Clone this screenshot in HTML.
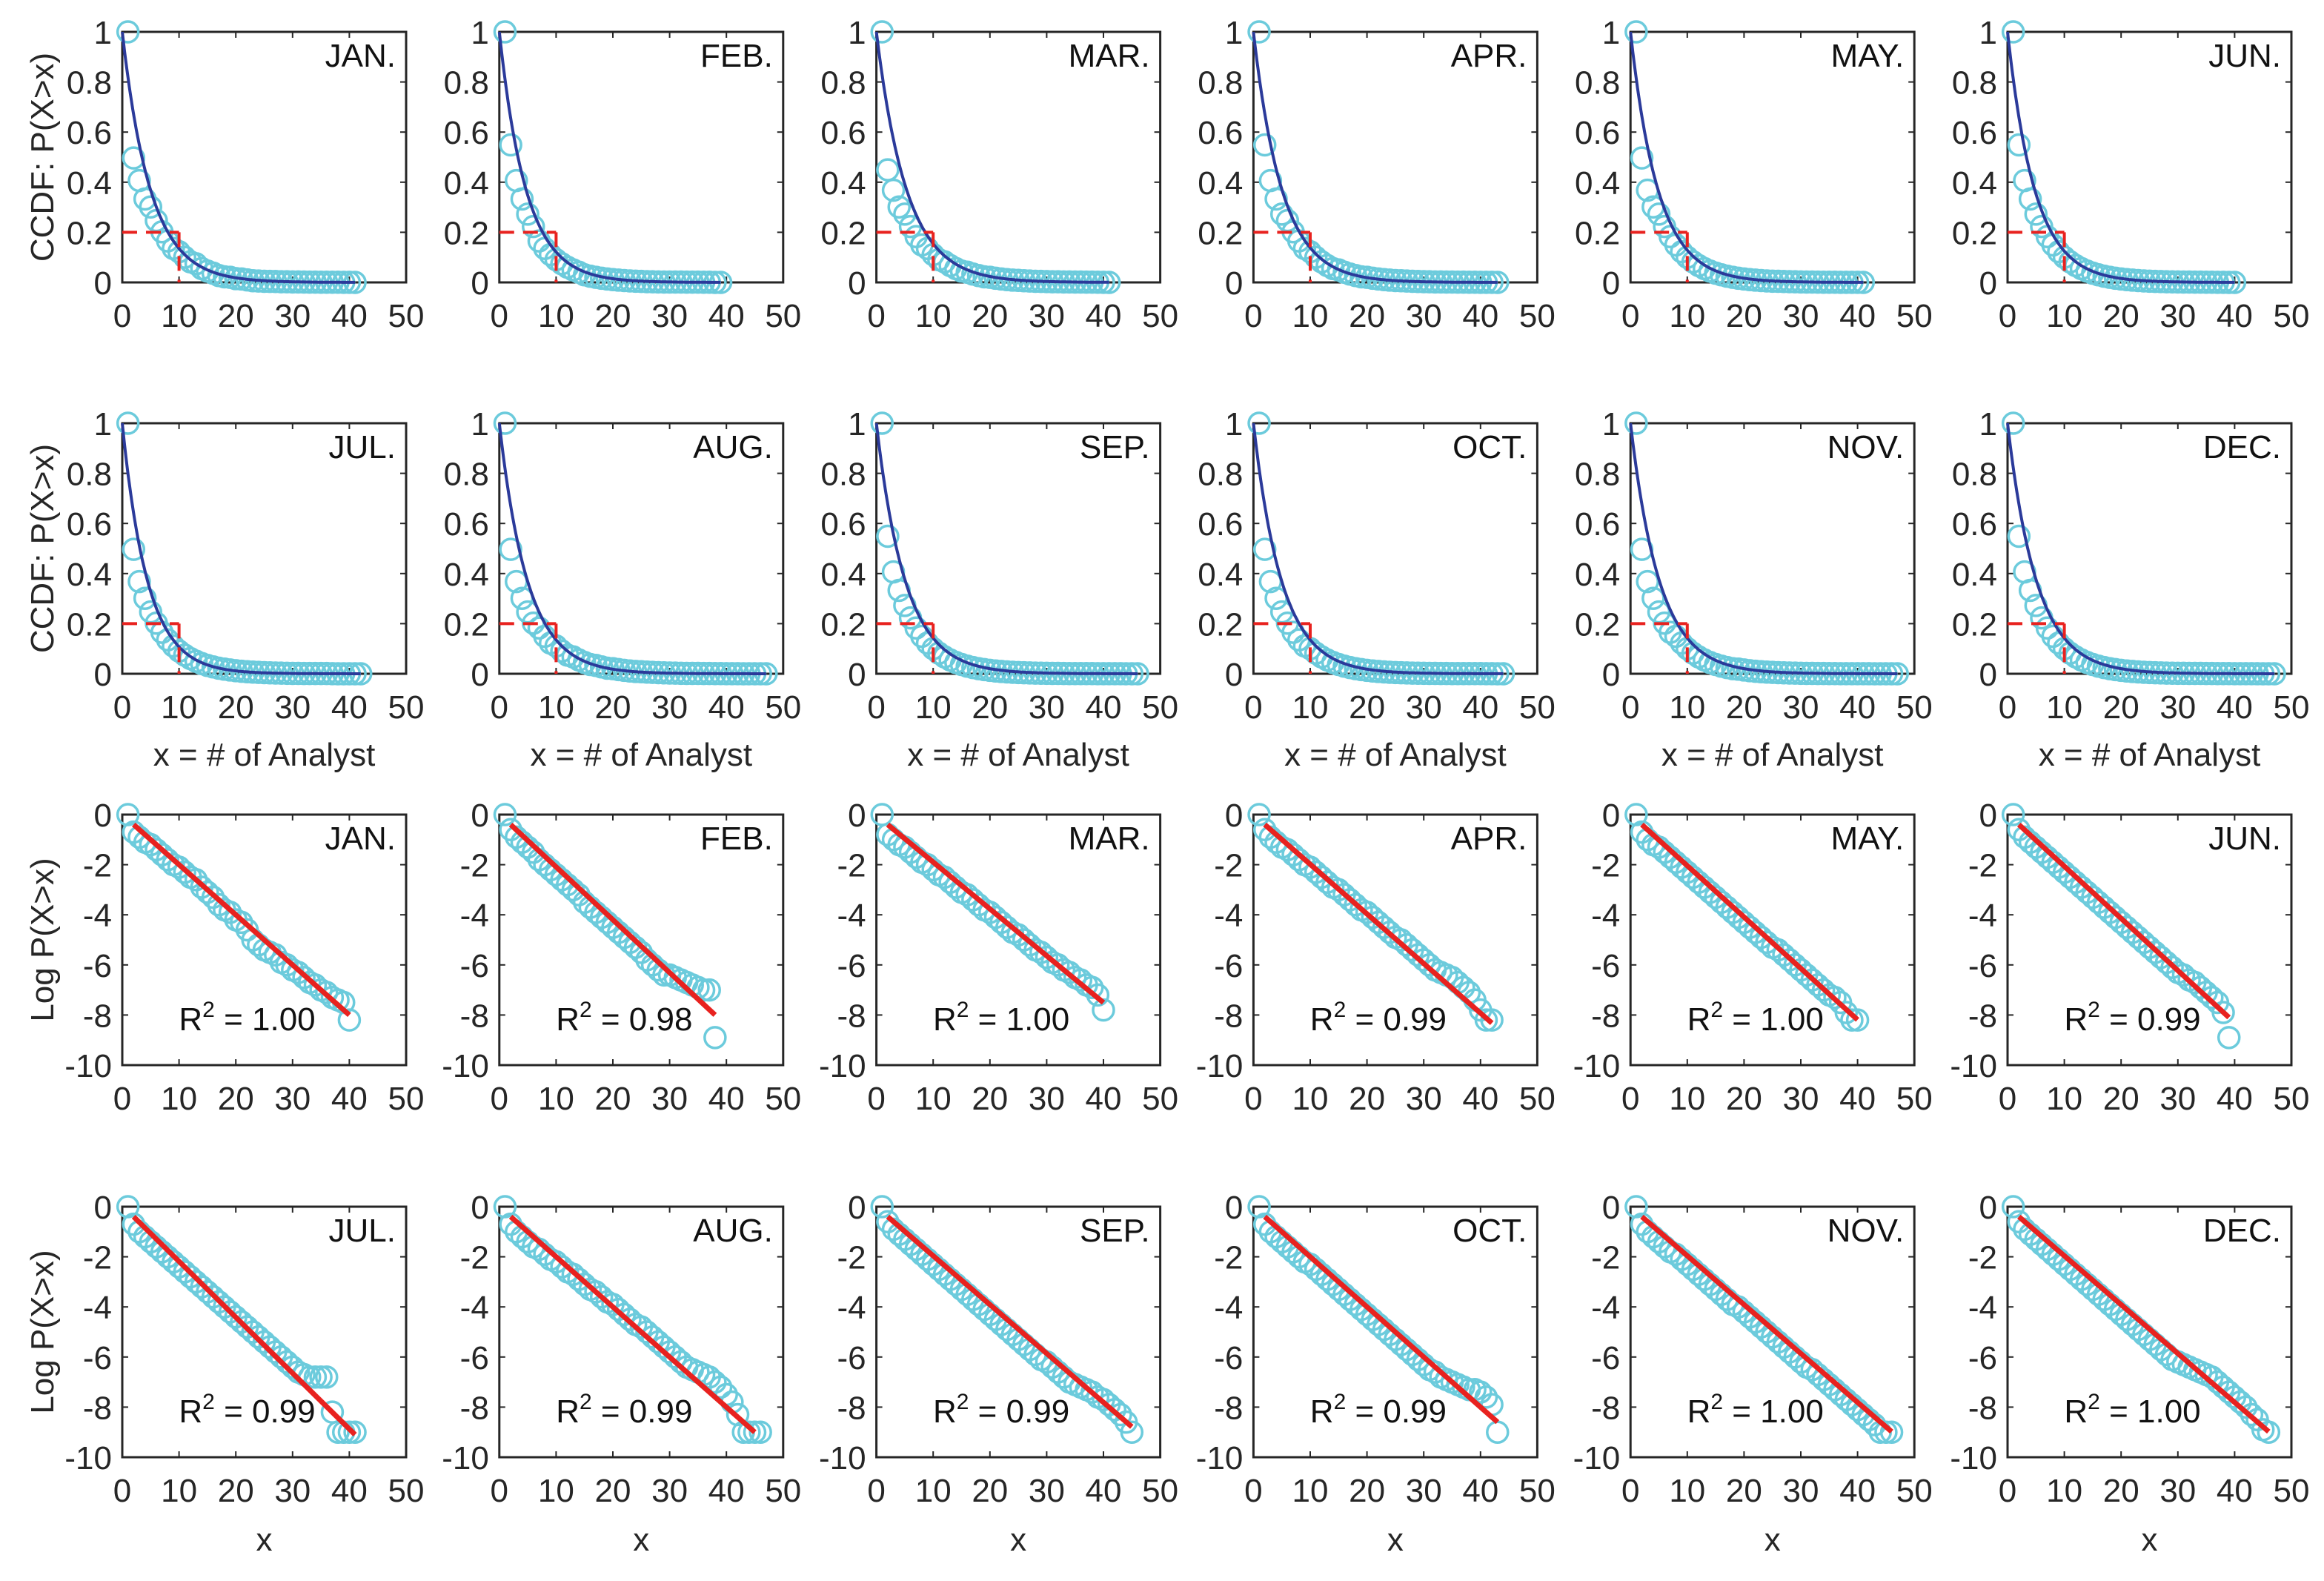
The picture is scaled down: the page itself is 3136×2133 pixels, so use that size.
<!DOCTYPE html>
<html><head><meta charset="utf-8"><style>
html,body{margin:0;padding:0;background:#fff;}
svg{display:block;font-family:"Liberation Sans",Arial,sans-serif;}
</style></head><body>
<svg id="fig" width="3136" height="2133" viewBox="0 0 3136 2133" xmlns="http://www.w3.org/2000/svg"></svg>
<script>
const months = ["JAN.","FEB.","MAR.","APR.","MAY.","JUN.","JUL.","AUG.","SEP.","OCT.","NOV.","DEC."];
const logJAN=[0,-0.7,-0.9,-1.1,-1.2,-1.4,-1.6,-1.8,-2.0,-2.1,-2.3,-2.5,-2.6,-2.9,-3.1,-3.3,-3.6,-3.8,-3.9,-4.2,-4.3,-4.6,-5.0,-5.2,-5.4,-5.5,-5.6,-5.9,-6.0,-6.2,-6.3,-6.5,-6.7,-6.8,-7.0,-7.1,-7.3,-7.4,-7.5,-8.2];
const logFEB=[0,-0.6,-0.9,-1.1,-1.3,-1.5,-1.8,-2.0,-2.2,-2.4,-2.6,-2.8,-3.0,-3.2,-3.5,-3.7,-3.9,-4.1,-4.3,-4.5,-4.7,-4.9,-5.1,-5.3,-5.5,-5.8,-6.0,-6.2,-6.4,-6.4,-6.5,-6.6,-6.7,-6.8,-6.9,-7.0,-7.0,-8.9];
const logMAR=[0,-0.8,-1.0,-1.2,-1.3,-1.5,-1.7,-1.9,-2.0,-2.2,-2.4,-2.5,-2.7,-2.9,-3.1,-3.2,-3.4,-3.6,-3.8,-3.9,-4.1,-4.3,-4.5,-4.7,-4.8,-5.0,-5.2,-5.4,-5.5,-5.7,-5.9,-6.0,-6.2,-6.3,-6.5,-6.6,-6.8,-6.9,-7.2,-7.8];
const logAPR=[0,-0.6,-0.9,-1.1,-1.3,-1.4,-1.6,-1.8,-2.0,-2.1,-2.3,-2.5,-2.7,-2.9,-3.0,-3.2,-3.4,-3.6,-3.8,-3.9,-4.1,-4.3,-4.5,-4.7,-4.9,-5.0,-5.2,-5.4,-5.6,-5.8,-6.0,-6.2,-6.3,-6.4,-6.5,-6.7,-6.9,-7.1,-7.4,-7.8,-8.2,-8.2];
const logMAY=[0,-0.7,-1.0,-1.2,-1.3,-1.5,-1.7,-1.9,-2.1,-2.3,-2.5,-2.7,-2.9,-3.1,-3.3,-3.5,-3.7,-3.9,-4.1,-4.3,-4.5,-4.7,-4.9,-5.1,-5.3,-5.4,-5.6,-5.8,-6.0,-6.2,-6.4,-6.6,-6.8,-7.0,-7.2,-7.3,-7.5,-7.9,-8.2,-8.2];
const logJUN=[0,-0.6,-0.9,-1.1,-1.3,-1.5,-1.7,-1.9,-2.1,-2.3,-2.5,-2.7,-2.9,-3.1,-3.3,-3.5,-3.7,-3.9,-4.1,-4.3,-4.5,-4.7,-4.9,-5.1,-5.3,-5.5,-5.7,-5.9,-6.1,-6.3,-6.4,-6.6,-6.7,-6.9,-7.1,-7.3,-7.5,-7.9,-8.9];
const logJUL=[0,-0.7,-1.0,-1.2,-1.4,-1.6,-1.8,-2.0,-2.2,-2.4,-2.6,-2.8,-3.0,-3.2,-3.4,-3.6,-3.8,-4.0,-4.2,-4.4,-4.6,-4.8,-5.0,-5.2,-5.4,-5.6,-5.8,-6.0,-6.2,-6.4,-6.6,-6.7,-6.8,-6.8,-6.8,-6.8,-8.2,-9.0,-9.0,-9.0,-9.0];
const logAUG=[0,-0.7,-1.0,-1.2,-1.4,-1.6,-1.7,-1.9,-2.1,-2.2,-2.4,-2.6,-2.7,-2.9,-3.1,-3.3,-3.4,-3.6,-3.8,-3.9,-4.1,-4.3,-4.5,-4.7,-4.8,-5.0,-5.2,-5.4,-5.6,-5.8,-6.0,-6.2,-6.4,-6.5,-6.6,-6.7,-6.8,-7.0,-7.2,-7.5,-7.8,-8.3,-9.0,-9.0,-9.0,-9.0];
const logSEP=[0,-0.6,-0.9,-1.1,-1.3,-1.5,-1.7,-1.9,-2.1,-2.3,-2.5,-2.7,-2.9,-3.1,-3.3,-3.5,-3.7,-3.9,-4.1,-4.3,-4.5,-4.7,-4.9,-5.1,-5.3,-5.5,-5.7,-5.9,-6.1,-6.2,-6.4,-6.6,-6.8,-7.0,-7.1,-7.2,-7.3,-7.4,-7.6,-7.7,-7.9,-8.1,-8.3,-8.6,-9.0];
const logOCT=[0,-0.7,-1.0,-1.2,-1.4,-1.6,-1.8,-2.0,-2.2,-2.3,-2.5,-2.7,-2.9,-3.1,-3.3,-3.5,-3.7,-3.9,-4.1,-4.3,-4.5,-4.7,-4.9,-5.1,-5.3,-5.5,-5.7,-5.9,-6.1,-6.3,-6.5,-6.6,-6.8,-6.9,-7.0,-7.1,-7.2,-7.3,-7.3,-7.4,-7.6,-7.9,-9.0];
const logNOV=[0,-0.7,-1.0,-1.2,-1.4,-1.6,-1.8,-1.9,-2.1,-2.3,-2.5,-2.7,-2.9,-3.1,-3.3,-3.5,-3.7,-3.9,-4.0,-4.2,-4.4,-4.6,-4.8,-5.0,-5.2,-5.4,-5.6,-5.8,-6.0,-6.2,-6.4,-6.5,-6.7,-6.9,-7.1,-7.3,-7.5,-7.7,-7.9,-8.1,-8.3,-8.5,-8.7,-9.0,-9.0,-9.0];
const logDEC=[0,-0.6,-0.9,-1.1,-1.3,-1.5,-1.7,-1.9,-2.1,-2.3,-2.5,-2.7,-2.9,-3.1,-3.3,-3.5,-3.7,-3.9,-4.1,-4.3,-4.5,-4.7,-4.9,-5.1,-5.3,-5.5,-5.7,-5.9,-6.1,-6.2,-6.3,-6.4,-6.5,-6.6,-6.7,-6.8,-7.0,-7.2,-7.4,-7.6,-7.8,-8.0,-8.3,-8.5,-8.9,-9.0];
const fitSlope=[-0.200,-0.211,-0.187,-0.198,-0.205,-0.208,-0.223,-0.200,-0.195,-0.200,-0.195,-0.195];
const fitEndX=[40,38,40,42,40,39,41,45,45,43,46,46];
const r2Values=["1.00","0.98","1.00","0.99","1.00","0.99","0.99","0.99","0.99","0.99","1.00","1.00"];
const xTicks=[0,10,20,30,40,50];
const ccdfTicks=[0,0.2,0.4,0.6,0.8,1];
const ccdfTickLabels=["0","0.2","0.4","0.6","0.8","1"];
const logTicks=[0,-2,-4,-6,-8,-10];
const logSeries=[logJAN,logFEB,logMAR,logAPR,logMAY,logJUN,logJUL,logAUG,logSEP,logOCT,logNOV,logDEC];

const NS="http://www.w3.org/2000/svg";
const svg=document.getElementById('fig');
function mk(tag,attrs,parent){const e=document.createElementNS(NS,tag);for(const k in attrs)e.setAttribute(k,attrs[k]);(parent||svg).appendChild(e);return e;}
const colX0=165, colStep=508.8, W=383, H=338;
const rowTop=[43,571,1099,1628];
const CYAN="#6ccbdc", AX="#262626";

function panel(row,col,m){
  const L=colX0+col*colStep, T=rowTop[row], B=T+H, R=L+W;
  const isLog=row>=2;
  const g=mk('g',{});
  
  
  const xs=v=>L+v/50*W;
  const ys=isLog?(v=>T+(0-v)/10*H):(v=>B-v*H);
  const clip='c'+row+'_'+col;
  const cp=mk('clipPath',{id:clip},g);mk('rect',{x:L-20,y:T-20,width:W+40,height:H+40},cp);
  const yt=isLog?logTicks:ccdfTicks;
  xTicks.forEach(t=>{
    const tl=mk('line',{x1:xs(t),x2:xs(t),y1:B,y2:B-8,stroke:AX,'stroke-width':2},g);
    
    
    mk('line',{x1:xs(t),x2:xs(t),y1:T,y2:T+8,stroke:AX,'stroke-width':2},g);
    const lb=mk('text',{x:xs(t),y:B+60,'text-anchor':'middle','font-size':44,fill:AX},g);
    lb.textContent=t;
    
    
  });
  yt.forEach((t,i)=>{
    mk('line',{x1:L,x2:L+8,y1:ys(t),y2:ys(t),stroke:AX,'stroke-width':2},g);
    mk('line',{x1:R,x2:R-8,y1:ys(t),y2:ys(t),stroke:AX,'stroke-width':2},g);
    const lb=mk('text',{x:L-14,y:ys(t)+16,'text-anchor':'end','font-size':44,fill:AX},g);
    lb.textContent=isLog?String(t):ccdfTickLabels[i];
    
    
  });
  const box=mk('rect',{x:L,y:T,width:W,height:H,fill:'none',stroke:AX,'stroke-width':3},g);
  
  
  const d=logSeries[m];
  const sl=fitSlope[m];
  const cg=mk('g',{'clip-path':'url(#'+clip+')'},g);
  if(!isLog){
    const pts=d.map(v=>Math.exp(v)).concat([0]);
    pts.forEach((v,i)=>{
      const c=mk('circle',{cx:xs(i+1),cy:ys(v),r:14,fill:'none',stroke:CYAN,'stroke-width':3.5},cg);
      
      
    });
    let p='';const xm=pts.length;
    for(let k=0;k<=200;k++){const x=xm*k/200;p+=(k?'L':'M')+xs(x).toFixed(1)+','+ys(Math.exp(sl*x)).toFixed(1);}
    const fl=mk('path',{d:p,fill:'none',stroke:'#2b3a9a','stroke-width':4},cg);
    
    
    const dh=mk('path',{d:'M'+xs(0)+','+ys(0.2)+'L'+xs(10)+','+ys(0.2)+'M'+xs(10)+','+ys(0.2)+'L'+xs(10)+','+ys(0),fill:'none',stroke:'#e8221f','stroke-width':4,'stroke-dasharray':'20 12'},cg);
    
    
  } else {
    d.forEach((v,i)=>{
      const c=mk('circle',{cx:xs(i+1),cy:ys(v),r:14,fill:'none',stroke:CYAN,'stroke-width':3.5},cg);
      
      
    });
    const a=-0.4-2*sl, x1=2, x2=fitEndX[m];
    const rl=mk('line',{x1:xs(x1),y1:ys(a+sl*x1),x2:xs(x2),y2:ys(a+sl*x2),stroke:'#e8221f','stroke-width':7},cg);
    
    
    const rt=mk('text',{x:xs(22),y:B-47,'text-anchor':'middle','font-size':44,fill:'#111'},g);
    rt.innerHTML='R<tspan dy="-18" font-size="30">2</tspan><tspan dy="18"> = '+r2Values[m]+'</tspan>';
    
    
  }
  const ml=mk('text',{x:R-14,y:T+47,'text-anchor':'end','font-size':44,fill:'#111'},g);
  ml.textContent=months[m];
  
  
  if(col===0){
    const cy=(T+B)/2;
    const yl=mk('text',{x:57,y:cy,'text-anchor':'middle','font-size':44,fill:AX,transform:'rotate(-90 57 '+cy+') translate(0 15)'},g);
    yl.textContent=isLog?'Log P(X>x)':'CCDF: P(X>x)';
    
    
  }
  if(row===1||row===3){
    const xl=mk('text',{x:(L+R)/2,y:row===1?B+124:B+126,'text-anchor':'middle','font-size':44,fill:AX},g);
    xl.textContent=row===1?'x = # of Analyst':'x';
    
    
  }
}
for(let r=0;r<4;r++)for(let c=0;c<6;c++){const m=(r%2)*6+c;panel(r,c,m);}
</script>
</body></html>
